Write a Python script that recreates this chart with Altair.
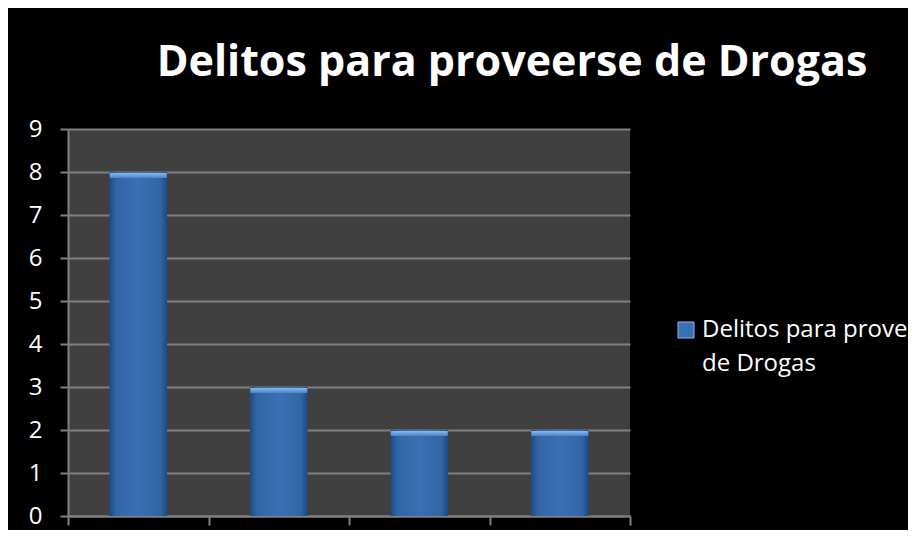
import altair as alt
import pandas as pd

categories = ["1", "2", "3", "4"]
values = [8, 3, 2, 2]
series = "Delitos para proveerse de Drogas"
legend_lines = ["Delitos para proveerse", "de Drogas"]
title_text = "Delitos para proveerse de Drogas"
y_ticks = [0, 1, 2, 3, 4, 5, 6, 7, 8, 9]

df = pd.DataFrame({"cat": categories, "val": values, "serie": [series] * len(categories)})

grad = alt.Gradient(
    gradient="linear", x1=0, x2=1, y1=0, y2=0,
    stops=[
        alt.GradientStop(color="#1d4a82", offset=0),
        alt.GradientStop(color="#3166a6", offset=0.12),
        alt.GradientStop(color="#3a70b4", offset=0.5),
        alt.GradientStop(color="#3166a6", offset=0.88),
        alt.GradientStop(color="#1d4a82", offset=1),
    ],
)
bevel = alt.Gradient(
    gradient="linear", x1=0, x2=0, y1=0, y2=1,
    stops=[
        alt.GradientStop(color="#8ab8ec", offset=0),
        alt.GradientStop(color="#4c84c6", offset=1),
    ],
)

FONT = "Open Sans"

base = alt.Chart(df).encode(
    x=alt.X(
        "cat:N",
        title=None,
        sort=categories,
        scale=alt.Scale(paddingInner=0, paddingOuter=0),
        axis=alt.Axis(labels=False, tickBand="extent", ticks=True, tickSize=9,
                      tickColor="#808080", tickWidth=2, domainColor="#808080",
                      domainWidth=2, grid=False),
    ),
    y=alt.Y(
        "val:Q",
        title=None,
        scale=alt.Scale(domain=[0, 9], nice=False),
        axis=alt.Axis(values=y_ticks, tickSize=8, tickColor="#808080", tickWidth=2,
                      domainColor="#808080", domainWidth=2, gridColor="#808080",
                      gridWidth=2, labelColor="white", labelFontSize=24,
                      labelFont=FONT, labelPadding=18),
    ),
)

bars = base.mark_bar(fill=grad, width=alt.RelativeBandSize(0.41)).encode(
    color=alt.Color(
        "serie:N",
        title=None,
        scale=alt.Scale(range=["#3a70b4"]),
        legend=alt.Legend(
            orient="none", legendX=606, legendY=189,
            symbolType="square", symbolSize=256, symbolStrokeColor="#8fb8e8",
            symbolStrokeWidth=1,
            labelColor="white", labelFontSize=24, labelFont=FONT,
            labelLimit=1000, labelOffset=4,
            labelExpr=str(legend_lines),
            labelBaseline="middle",
        ),
    ),
)

caps = base.mark_tick(fill=bevel, opacity=1, size=57, thickness=5, yOffset=3.5)

chart = (
    alt.layer(bars, caps)
    .properties(
        width=562,
        height=387,
        padding={"left": 60, "top": 121, "right": 278, "bottom": 14},
        autosize=alt.AutoSizeParams(type="none"),
        background="black",
        title=alt.TitleParams(
            title_text, color="white", font=FONT, fontSize=43, fontWeight="bold",
            anchor="middle", dx=163, offset=-2, baseline="alphabetic",
        ),
    )
    .configure(style={"guide-label": {"lineHeight": 34}})
    .configure_view(fill="#404040", stroke=None)
)

chart.save("out.html", embed_options={"renderer": "svg", "actions": False})
